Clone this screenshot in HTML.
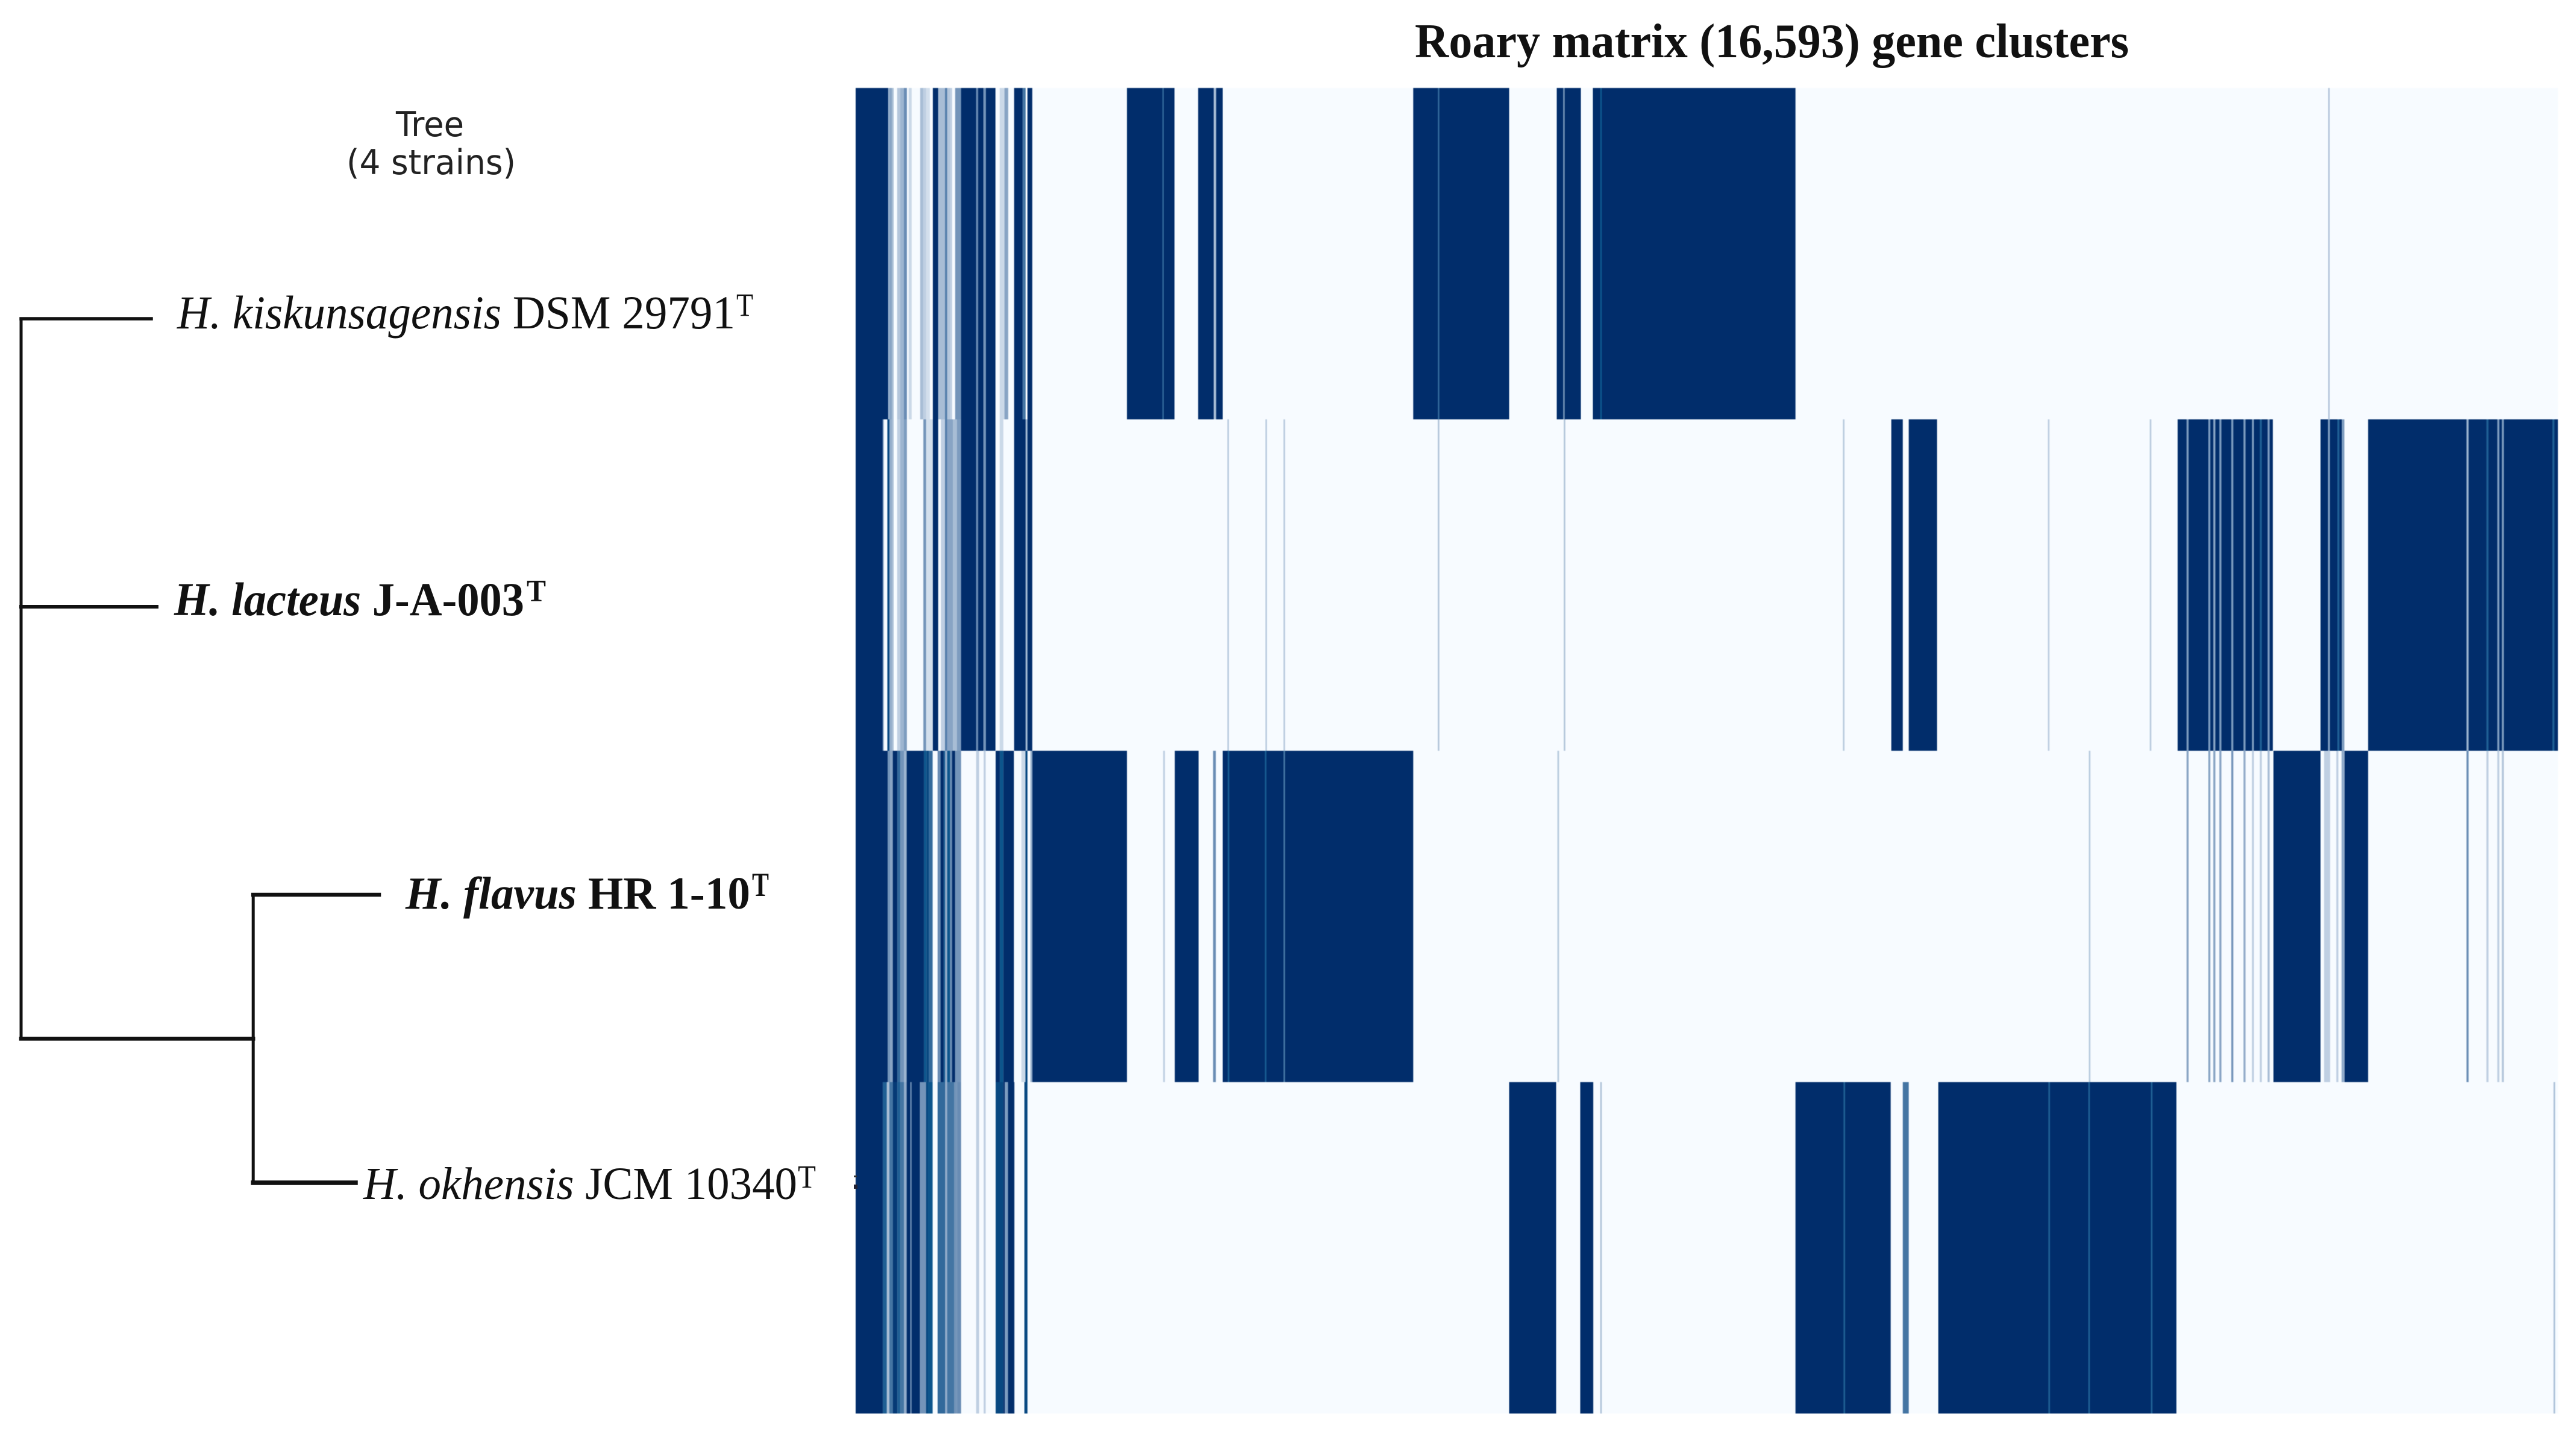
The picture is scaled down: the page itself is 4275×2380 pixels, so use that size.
<!DOCTYPE html>
<html lang="en">
<head>
<meta charset="utf-8">
<title>Roary matrix (16,593) gene clusters</title>
<style>
  html, body { margin: 0; padding: 0; background: #fff; }
  body { width: 4275px; height: 2380px; overflow: hidden; }
  svg { display: block; }
  .serif { font-family: "Liberation Serif", serif; fill: #111; }
  .sans { font-family: "DejaVu Sans", sans-serif; fill: #222; }
</style>
</head>
<body>
<svg id="chart" xmlns="http://www.w3.org/2000/svg" width="4275" height="2380" viewBox="0 0 4275 2380">
  <rect x="0" y="0" width="4275" height="2380" fill="#fff"/>

  <text class="serif" x="2348" y="95" font-size="80" font-weight="bold" textLength="1185" lengthAdjust="spacingAndGlyphs">Roary matrix (16,593) gene clusters</text>

  <text class="sans" x="657" y="226" font-size="57" textLength="113" lengthAdjust="spacingAndGlyphs">Tree</text>
  <text class="sans" x="575" y="289" font-size="57" textLength="281" lengthAdjust="spacingAndGlyphs">(4 strains)</text>

  <g id="tree"></g>

  <text class="serif" x="294" y="545" font-size="78" textLength="926" lengthAdjust="spacingAndGlyphs"><tspan font-style="italic">H. kiskunsagensis</tspan> DSM 29791</text>
  <text class="serif" x="1222" y="524" font-size="54" textLength="28" lengthAdjust="spacingAndGlyphs">T</text>

  <text class="serif" x="289" y="1021" font-size="78" font-weight="bold" textLength="581" lengthAdjust="spacingAndGlyphs"><tspan font-style="italic">H. lacteus</tspan> J-A-003</text>
  <text class="serif" x="874" y="998" font-size="52" font-weight="bold" textLength="32" lengthAdjust="spacingAndGlyphs">T</text>

  <text class="serif" x="673" y="1508" font-size="76" font-weight="bold" textLength="572" lengthAdjust="spacingAndGlyphs"><tspan font-style="italic">H. flavus</tspan> HR 1-10</text>
  <text class="serif" x="1248" y="1487" font-size="56" font-weight="bold" textLength="28" lengthAdjust="spacingAndGlyphs">T</text>

  <text class="serif" x="603" y="1990" font-size="76" textLength="720" lengthAdjust="spacingAndGlyphs"><tspan font-style="italic">H. okhensis</tspan> JCM 10340</text>
  <text class="serif" x="1324" y="1971" font-size="54" textLength="30" lengthAdjust="spacingAndGlyphs">T</text>

  <g id="heatmap" style="filter: blur(0.5px)"></g>

  <rect x="1417" y="1951" width="5" height="3" fill="#333"/>
  <rect x="1417" y="1966" width="6" height="7" fill="#223"/>
</svg>

<script>
// Matrix categories and size
const strains = ['H. kiskunsagensis DSM 29791', 'H. lacteus J-A-003', 'H. flavus HR 1-10', 'H. okhensis JCM 10340'];
const totalClusters = 16593;

// Each series: runs of [first cluster, last cluster, presence density 0..1], painted in order
const kiskunsagensisRuns = [
  [0,317,1],[317,329,.35],[329,353,.45],[353,370,.3],[405,435,.25],[435,470,.35],[470,499,.6],[517,546,.15],
  [629,658,.3],[658,687,.2],[687,723,.12],[752,805,1],[805,870,.3],[870,893,.65],[893,923,.25],[923,940,.2],
  [970,1028,.55],[1028,1175,1],[1175,1193,.6],[1193,1246,1],[1246,1269,.55],[1269,1363,1],[1404,1451,.15],
  [1451,1487,.45],[1545,1628,1],[1628,1657,.7],[1675,1722,1],
  [2644,3108,1],[2990,3004,.75],[3338,3578,1],[3490,3514,.3],[5435,6370,1],[5675,5690,.75],
  [6834,7069,1],[6897,6911,.5],[7186,9161,1],[7257,7274,.85],[14353,14369,.25]
];
const lacteusRuns = [
  [0,264,1],[264,275,.4],[309,329,.9],[329,353,.4],[353,370,.3],[405,435,.2],[435,470,.35],[470,499,.5],
  [660,687,.55],[687,752,.12],[752,805,1],[832,870,.2],[870,893,.65],[893,950,.45],[950,987,.3],[987,1028,.5],
  [1028,1175,1],[1175,1193,.6],[1193,1246,1],[1246,1269,.55],[1269,1363,1],[1404,1440,.15],[1545,1657,1],
  [1657,1675,.35],[1675,1722,1],
  [3623,3639,.22],[3994,4010,.22],[4170,4186,.22],[5674,5690,.25],[6902,6918,.25],[9623,9639,.22],
  [10095,10207,1],[10265,10541,1],[11621,11637,.2],[12614,12630,.22],
  [12886,13814,1],[12973,12993,.5],[13185,13205,.5],[13234,13254,.45],[13293,13313,.5],[13409,13429,.5],
  [13528,13548,.5],[13610,13630,.5],[13687,13707,.8],[13763,13783,.5],
  [14279,14511,1],[14351,14371,.5],[14443,14463,.8],[14486,14511,.5],
  [14743,16593,1],[15702,15722,.35],[15896,15916,.8],[16002,16022,.5],[16046,16066,.5],[16539,16559,.8]
];
const flavusRuns = [
  [0,313,1],[313,337,.55],[337,362,.45],[362,407,1],[407,435,.75],[435,470,.55],[470,497,.35],[497,666,1],
  [666,689,.85],[689,715,.9],[715,750,.75],[799,828,.6],[828,858,1],[858,872,.8],[872,893,.4],[893,921,.85],
  [921,940,.6],[940,970,1],[970,1028,.55],[1175,1204,.2],[1248,1267,.2],[1365,1406,1],[1406,1440,.85],
  [1440,1543,1],[1616,1655,.15],[1655,1675,.9],[1704,1720,.4],
  [1722,2644,1],[2997,3014,.2],[3111,3343,1],[3484,3511,.6],[3578,5435,1],[3627,3643,.82],[3988,4004,.82],[4170,4186,.7],
  [6840,6857,.22],[12020,12036,.22],
  [12973,12993,.45],[13185,13205,.45],[13234,13254,.45],[13293,13313,.45],[13409,13429,.55],[13528,13548,.4],
  [13610,13630,.2],[13687,13707,.2],[13763,13783,.3],[13820,14279,1],[14314,14373,.2],[14433,14453,.2],
  [14484,14514,.4],[14514,14743,1],[15702,15722,.6],[15896,15916,.2],[16002,16022,.2],[16046,16066,.25]
];
const okhensisRuns = [
  [0,264,1],[264,304,.8],[304,329,.3],[329,362,.7],[362,407,.95],[407,435,.8],[435,470,.7],[470,497,.4],
  [497,533,1],[533,545,.6],[545,627,1],[627,686,.55],[686,705,.9],[705,750,.85],[799,872,.75],[872,893,.4],
  [893,960,.7],[960,989,.55],[989,1028,.6],[1175,1204,.2],[1248,1267,.2],[1365,1440,.9],[1440,1455,1],
  [1455,1485,.5],[1485,1547,1],[1645,1675,.9],
  [6370,6828,1],[7063,7190,1],[7257,7274,.25],
  [9161,10089,1],[9629,9645,.8],[10207,10265,.7],[10553,12874,1],[11626,11642,.8],[12015,12031,.8],[12625,12641,.8],
  [16550,16566,.28]
];
const strainRuns = [kiskunsagensisRuns, lacteusRuns, flavusRuns, okhensisRuns];

// Tree: depth as a fraction of the tree width
const tipDepths = [0.36, 0.375, 0.99, 0.925];
const innerNodeDepth = [0.642];

const svgNS = 'http://www.w3.org/2000/svg';

function xScale(cluster) {
  return 1420 + (cluster / totalClusters) * 2825;
}
function rowTop(index) {
  return 146 + index * 550;
}
function densityColor(v) {
  const stops = [
    [0, 247, 251, 255],
    [0.6, 105, 140, 180],
    [0.75, 50, 105, 155],
    [0.85, 12, 85, 140],
    [1, 1, 45, 107]
  ];
  const t = v < 0.6 ? 0.6 * Math.pow(v / 0.6, 0.85) : v;
  let i = 0;
  while (i < stops.length - 2 && t > stops[i + 1][0]) i++;
  const a = stops[i];
  const b = stops[i + 1];
  const f = (t - a[0]) / (b[0] - a[0]);
  const c = [1, 2, 3].map(function (k) { return Math.round(a[k] + (b[k] - a[k]) * f); });
  return 'rgb(' + c.join(',') + ')';
}
function treeX(depth) {
  return 35 + depth * 600;
}
function treeY(rank) {
  return 529 + rank * 478;
}

const heatmap = document.getElementById('heatmap');
strains.forEach(function (name, r) {
  const bg = document.createElementNS(svgNS, 'rect');
  
  
  bg.setAttribute('x', xScale(0));
  bg.setAttribute('y', rowTop(r));
  bg.setAttribute('width', xScale(totalClusters) - xScale(0));
  bg.setAttribute('height', 550);
  bg.setAttribute('fill', densityColor(0));
  heatmap.appendChild(bg);
});
strainRuns.forEach(function (runs, r) {
  runs.forEach(function (run) {
    const cell = document.createElementNS(svgNS, 'rect');
    
    
    cell.setAttribute('x', xScale(run[0]));
    cell.setAttribute('y', rowTop(r));
    cell.setAttribute('width', xScale(run[1]) - xScale(run[0]));
    cell.setAttribute('height', 550);
    cell.setAttribute('fill', densityColor(run[2]));
    heatmap.appendChild(cell);
  });
});

const tree = document.getElementById('tree');
function addBranch(x1, y1, x2, y2, w) {
  const line = document.createElementNS(svgNS, 'line');
  
  
  line.setAttribute('x1', x1);
  line.setAttribute('y1', y1);
  line.setAttribute('x2', x2);
  line.setAttribute('y2', y2);
  line.setAttribute('stroke', '#111');
  line.setAttribute('stroke-width', w);
  line.setAttribute('stroke-linecap', 'square');
  tree.appendChild(line);
}
const innerY = (treeY(2) + treeY(3)) / 2;
addBranch(treeX(0), treeY(0), treeX(0), innerY, 5);
addBranch(treeX(0), treeY(0), treeX(tipDepths[0]), treeY(0), 5.5);
addBranch(treeX(0), treeY(1), treeX(tipDepths[1]), treeY(1), 6);
addBranch(treeX(0), innerY, treeX(innerNodeDepth[0]), innerY, 6.5);
addBranch(treeX(innerNodeDepth[0]), treeY(2), treeX(innerNodeDepth[0]), treeY(3), 5);
addBranch(treeX(innerNodeDepth[0]), treeY(2), treeX(tipDepths[2]), treeY(2), 6.5);
addBranch(treeX(innerNodeDepth[0]), treeY(3), treeX(tipDepths[3]), treeY(3), 7.5);
</script>
</body>
</html>
